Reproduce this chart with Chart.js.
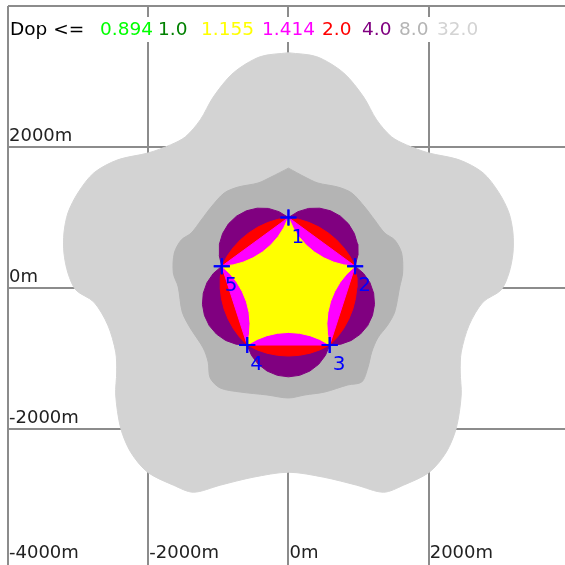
<!DOCTYPE html>
<html>
<head>
<meta charset="utf-8">
<script src="https://cdn.jsdelivr.net/npm/chart.js@4.4.1/dist/chart.umd.min.js"></script>
<style>
html, body { margin: 0; padding: 0; background: #fff; }
</style>
</head>
<body>
<canvas id="dop" width="565" height="565"></canvas>
<script>
// DOP contour map, five stations on a 1000m ring
const dopLevels = ['0.894', '1.0', '1.155', '1.414', '2.0', '4.0', '8.0', '32.0'];
const levelColors = ['#00ff00', '#008000', '#ffff00', '#ff00ff', '#ff0000', '#800080', '#b4b4b4', '#d3d3d3'];

const stationNames = ['1', '2', '3', '4', '5'];
const stationX = [0, 951, 588, -588, -951];
const stationY = [1000, 309, -809, -809, 309];

const xTicks = [-4000, -2000, 0, 2000];
const yTicks = [-2000, 0, 2000, 4000];
const yTickLabels = ['-2000m', '0m', '2000m', ''];
const xTickLabels = ['-4000m', '-2000m', '0m', '2000m'];

// contour outlines, [x, y] in metres
const dop1155 = [[0,1000],[68,852],[148,728],[251,611],[370,510],[504,428],[647,366],[789,328],[951,309],
  [831,199],[738,84],[659,-50],[599,-195],[562,-347],[548,-502],[556,-650],[588,-809],
  [446,-729],[308,-676],[156,-642],[0,-630],[-156,-642],[-308,-676],[-446,-729],[-588,-809],
  [-556,-650],[-548,-502],[-562,-347],[-599,-195],[-659,-50],[-738,84],[-831,199],[-951,309],
  [-789,328],[-647,366],[-504,428],[-370,510],[-251,611],[-148,728],[-68,852],[0,1000]];

const dop1414 = [[0,1000],[951,309],[588,-809],[-588,-809],[-951,309],[0,1000]];

const dop2 = [[0,1000],[158,972],[295,929],[436,864],[567,781],[687,682],[792,568],[876,450],[951,309],
  [973,151],[975,6],[956,-148],[918,-298],[860,-443],[785,-578],[699,-694],[588,-809],
  [444,-879],[307,-925],[155,-955],[0,-965],[-155,-955],[-307,-925],[-444,-879],[-588,-809],
  [-699,-694],[-785,-578],[-860,-443],[-918,-298],[-956,-148],[-975,6],[-973,151],[-951,309],
  [-876,450],[-792,568],[-687,682],[-567,781],[-436,864],[-295,929],[-158,972],[0,1000]];

const dop4 = [[0,1000],[136,1083],[287,1129],[446,1132],[600,1095],[741,1019],[856,910],[939,774],[985,622],[988,464],[951,309],
  [1072,206],[1162,76],[1215,-74],[1227,-233],[1198,-389],[1130,-533],[1026,-654],[896,-744],[747,-797],[588,-809],
  [527,-956],[431,-1082],[305,-1178],[158,-1239],[0,-1260],[-158,-1239],[-305,-1178],[-431,-1082],[-527,-956],[-588,-809],
  [-747,-797],[-896,-744],[-1026,-654],[-1130,-533],[-1198,-389],[-1227,-233],[-1215,-74],[-1162,76],[-1072,206],[-951,309],
  [-988,464],[-985,622],[-939,774],[-856,910],[-741,1019],[-600,1095],[-446,1132],[-287,1129],[-136,1083],[0,1000]];

const dop8 = [[0,1700],[235,1574],[420,1489],[704,1432],[903,1347],[1088,1149],[1230,964],[1372,780],[1515,681],
  [1614,496],[1628,213],[1586,14],[1515,-340],[1415,-525],[1273,-709],[1188,-907],[1131,-1134],[1045,-1333],
  [846,-1375],[519,-1475],[235,-1517],[0,-1560],[-306,-1517],[-690,-1475],[-974,-1418],[-1116,-1276],
  [-1145,-1049],[-1216,-851],[-1401,-567],[-1515,-340],[-1572,14],[-1642,213],[-1628,496],[-1529,681],
  [-1386,780],[-1244,964],[-1102,1149],[-917,1347],[-718,1432],[-434,1489],[-249,1574],[0,1700]];

const dop32 = [[0,3337],[405,3280],[788,3050],[1072,2710],[1257,2386],[1470,2144],[1683,2030],[1995,1917],
  [2435,1818],[2776,1633],[3003,1349],[3145,1065],[3202,781],[3202,497],[3145,213],[3032,-28],[2776,-199],
  [2577,-525],[2464,-909],[2450,-1191],[2464,-1519],[2393,-1988],[2250,-2329],[2009,-2613],[1640,-2797],
  [1356,-2897],[973,-2797],[504,-2684],[0,-2613],[-504,-2684],[-973,-2797],[-1356,-2897],[-1640,-2797],
  [-2009,-2613],[-2250,-2329],[-2393,-1988],[-2464,-1519],[-2450,-1191],[-2464,-909],[-2577,-525],
  [-2776,-199],[-3032,-28],[-3145,213],[-3202,497],[-3202,781],[-3145,1065],[-3003,1349],[-2776,1633],
  [-2435,1818],[-1995,1917],[-1683,2030],[-1470,2144],[-1257,2386],[-1072,2710],[-788,3050],[-405,3280],[0,3337]];

// where each legend value starts (px)
const legendX = [100, 158, 201, 262, 322, 362, 399, 437];

function zone(points, level, tension) {
  return {
    type: 'line',
    data: points.map(([x, y]) => ({ x, y })),
    backgroundColor: levelColors[level],
    borderColor: levelColors[level],
    borderWidth: 1,
    pointRadius: 0,
    fill: 'shape',
    tension
  };
}

const overlay = {
  id: 'overlay',
  afterDraw(chart) {
    const { ctx, scales: { x, y } } = chart;
    const meta = chart.getDatasetMeta(0);
    ctx.save();

    // axis labels sit inside the plot, just past each grid line
    ctx.font = '18px "DejaVu Sans"';
    ctx.fillStyle = '#222';
    ctx.textBaseline = 'alphabetic';
    yTicks.forEach((v, i) => ctx.fillText(yTickLabels[i], 9, y.getPixelForValue(v) - 6));
    xTicks.forEach((v, i) => ctx.fillText(xTickLabels[i], x.getPixelForValue(v) + 1, 558));

    // stations on top of the grid
    meta.data.forEach(p => p.draw(ctx, chart.chartArea));
    ctx.fillStyle = '#0000ff';
    ctx.font = '20px "DejaVu Sans"';
    meta.data.forEach((p, i) => ctx.fillText(stationNames[i], p.x + 3, p.y + 25));

    // legend strip
    ctx.fillStyle = '#fff';
    ctx.fillRect(9, 17, chart.width - 9, 25);
    ctx.font = '18.5px "DejaVu Sans"';
    ctx.fillStyle = '#000';
    ctx.fillText('Dop <=', 10, 35);
    dopLevels.forEach((t, i) => {
      ctx.fillStyle = levelColors[i];
      ctx.fillText(t, legendX[i], 35);
    });
    ctx.restore();
  }
};

new Chart(document.getElementById('dop'), {
  type: 'line',
  data: {
    datasets: [
      {
        label: 'stations',
        data: stationX.map((x, i) => ({ x, y: stationY[i] })),
        showLine: false,
        pointStyle: 'cross',
        pointRadius: 8,
        borderColor: '#0000ff',
        borderWidth: 2
      },
      zone(dop1155, 2, 0),
      zone(dop1414, 3, 0),
      zone(dop2, 4, 0),
      zone(dop4, 5, 0),
      zone(dop8, 6, 0.3),
      zone(dop32, 7, 0.3)
    ]
  },
  options: {
    responsive: false,
    animation: false,
    events: [],
    layout: { autoPadding: false, padding: { left: 8, top: 6, right: 0, bottom: 0 } },
    plugins: { legend: { display: false }, tooltip: { enabled: false } },
    scales: {
      x: {
        type: 'linear',
        min: -4000,
        max: 3944,
        z: 1,
        afterBuildTicks: axis => { axis.ticks = xTicks.map(value => ({ value })); },
        grid: { color: '#8c8c8c', lineWidth: 2, drawTicks: false },
        border: { display: false },
        ticks: { display: false }
      },
      y: {
        type: 'linear',
        min: -3929,
        max: 4000,
        z: 1,
        afterBuildTicks: axis => { axis.ticks = yTicks.map(value => ({ value })); },
        grid: { color: '#8c8c8c', lineWidth: 2, drawTicks: false },
        border: { display: false },
        ticks: { display: false }
      }
    }
  },
  plugins: [overlay]
});
</script>
</body>
</html>
